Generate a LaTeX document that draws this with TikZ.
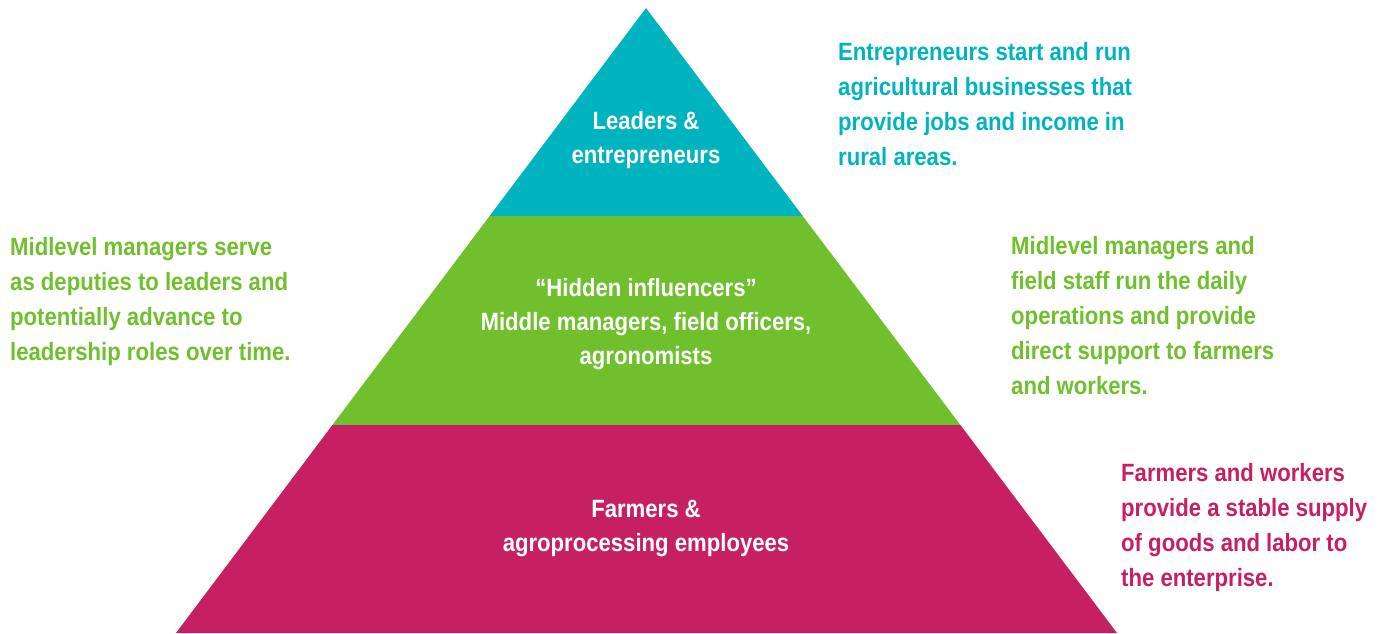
\documentclass[tikz,border=0pt]{standalone}
\usepackage{fontspec}
\setmainfont{Liberation Sans}[FakeStretch=0.885]
\definecolor{teal1}{RGB}{0,180,191}
\definecolor{green1}{RGB}{112,191,44}
\definecolor{mag1}{RGB}{198,32,98}
\begin{document}
\begin{tikzpicture}[x=1pt,y=-1pt,
  txt/.style={inner sep=0pt,font=\fontsize{25}{34}\selectfont\bfseries},
  side/.style={inner sep=0pt,font=\fontsize{25}{35}\selectfont\bfseries,anchor=base west,align=left},
  inside/.style={txt,anchor=base,align=center,text=white}]
\useasboundingbox (0,0) rectangle (1388,633);
\coordinate (apex) at (646,8);
\coordinate (l1) at (489.6,216);
\coordinate (r1) at (802.7,216);
\coordinate (l2) at (332.4,425);
\coordinate (r2) at (960.4,425);
\coordinate (l3) at (176,633);
\coordinate (r3) at (1117,633);
\fill[teal1] (apex) -- (r1) -- (l1) -- cycle;
\fill[green1] (l1) -- (r1) -- (r2) -- (l2) -- cycle;
\fill[mag1] (l2) -- (r2) -- (r3) -- (l3) -- cycle;
\node[inside] (lead) at (646,163) {Leaders \&\\entrepreneurs};
\node[inside] (hid) at (646,364) {“Hidden influencers”\\Middle managers, field officers,\\agronomists};
\node[inside] (farm) at (646,551) {Farmers \&\\agroprocessing employees};
\node[side,text=teal1] (tdesc) at (838,165) {Entrepreneurs start and run\\agricultural businesses that\\provide jobs and income in\\rural areas.};
\node[side,text=green1] (gleft) at (10,360) {Midlevel managers serve\\as deputies to leaders and\\potentially advance to\\leadership roles over time.};
\node[side,text=green1] (gright) at (1011,394) {Midlevel managers and\\field staff run the daily\\operations and provide\\direct support to farmers\\and workers.};
\node[side,text=mag1] (mdesc) at (1121,586) {Farmers and workers\\provide a stable supply\\of goods and labor to\\the enterprise.};
\end{tikzpicture}
\end{document}
